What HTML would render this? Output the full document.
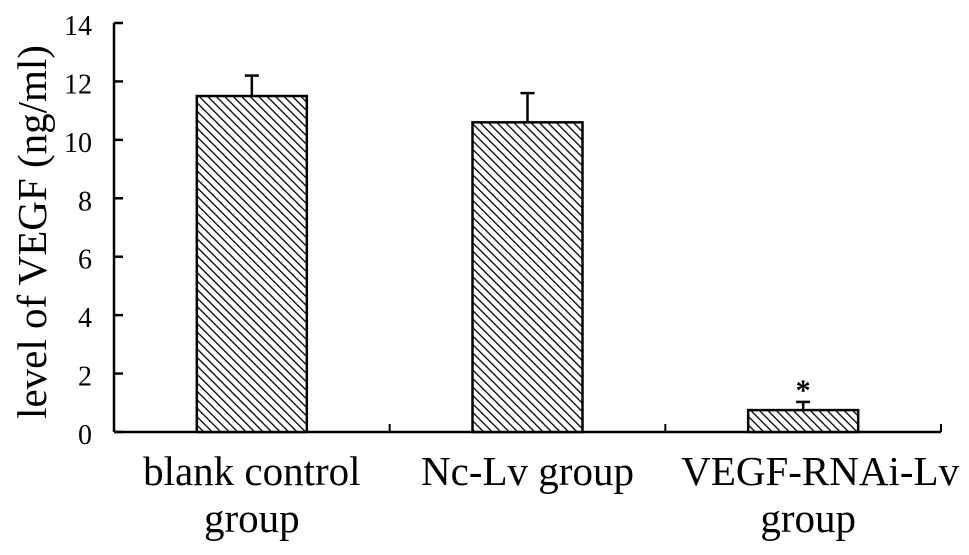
<!DOCTYPE html>
<html><head><meta charset="utf-8"><style>
html,body{margin:0;padding:0;background:#fff;}
svg{display:block;font-family:"Liberation Serif",serif;}
</style></head><body>
<svg id="chart" width="969" height="555" viewBox="0 0 969 555">
<defs>
<pattern id="hatch" patternUnits="userSpaceOnUse" width="6" height="6" patternTransform="rotate(-45)">
<rect width="6" height="6" fill="#fff"/>
<line x1="0" y1="0" x2="0" y2="6" stroke="#000" stroke-width="2.6"/>
</pattern>
</defs>
<g id="plot"></g>
</svg>
<script>
const categories = [["blank control","group"],["Nc-Lv group"],["VEGF-RNAi-Lv","group"]];
const means = [11.5, 10.6, 0.75];
const errors = [0.7, 1.0, 0.28];
const significant = [false, false, true];
const yTicks = [0,2,4,6,8,10,12,14];

const ns="http://www.w3.org/2000/svg";
const g=document.getElementById('plot');
const x0=114, x1=941, yBase=432, yTop=23, yMax=14;
const band=(x1-x0)/categories.length, barW=110;
function y(v){return yBase-(v/yMax)*(yBase-yTop);}
function cx(i){return x0+band*(i+0.5);}
function el(tag,attrs){const e=document.createElementNS(ns,tag);for(const k in attrs)e.setAttribute(k,attrs[k]);g.appendChild(e);return e;}

let a=el('line',{x1:x0,y1:yTop,x2:x0,y2:yBase,stroke:'#000','stroke-width':2.5});


a=el('line',{x1:x0,y1:yBase,x2:x1,y2:yBase,stroke:'#000','stroke-width':2.5});



yTicks.forEach(t=>{
 const tk=el('line',{x1:x0,y1:y(t),x2:x0+9,y2:y(t),stroke:'#000','stroke-width':2.5});
 
 
 const tl=el('text',{x:92,y:y(t)+12,'text-anchor':'end','font-size':28});
 tl.textContent=t;
 
 
});
for(let i=1;i<=categories.length;i++){
 const xx=x0+band*i;
 const tk=el('line',{x1:xx,y1:yBase,x2:xx,y2:yBase-8,stroke:'#000','stroke-width':2});
 
 
}
means.forEach((m,i)=>{
 const c=cx(i);
 const eb=el('line',{x1:c,y1:y(m),x2:c,y2:y(m+errors[i]),stroke:'#000','stroke-width':2.5});
 
 
 const cap=el('line',{x1:c-7,y1:y(m+errors[i]),x2:c+7,y2:y(m+errors[i]),stroke:'#000','stroke-width':2.5});
 
 
 const b=el('rect',{x:c-barW/2,y:y(m),width:barW,height:yBase-y(m),fill:'url(#hatch)',stroke:'#000','stroke-width':2.5});
 
 
 if(significant[i]){
  const s=el('text',{x:c,y:y(m+errors[i])-2,'text-anchor':'middle','font-size':30,'font-weight':'bold'});
  s.textContent='*';
  
  
 }
 categories[i].forEach((line,j)=>{
  const shift = (i===2) ? (j===0 ? 17 : 5) : 0;
  const t=el('text',{x:c+shift,y:485+j*47,'text-anchor':'middle','font-size':41});
  t.textContent=line;
  
  
 });
});
const yt=el('text',{x:0,y:0,'text-anchor':'middle','font-size':41,transform:'translate(46,232) rotate(-90)'});
yt.textContent='level of VEGF (ng/ml)';


</script>
</body></html>
